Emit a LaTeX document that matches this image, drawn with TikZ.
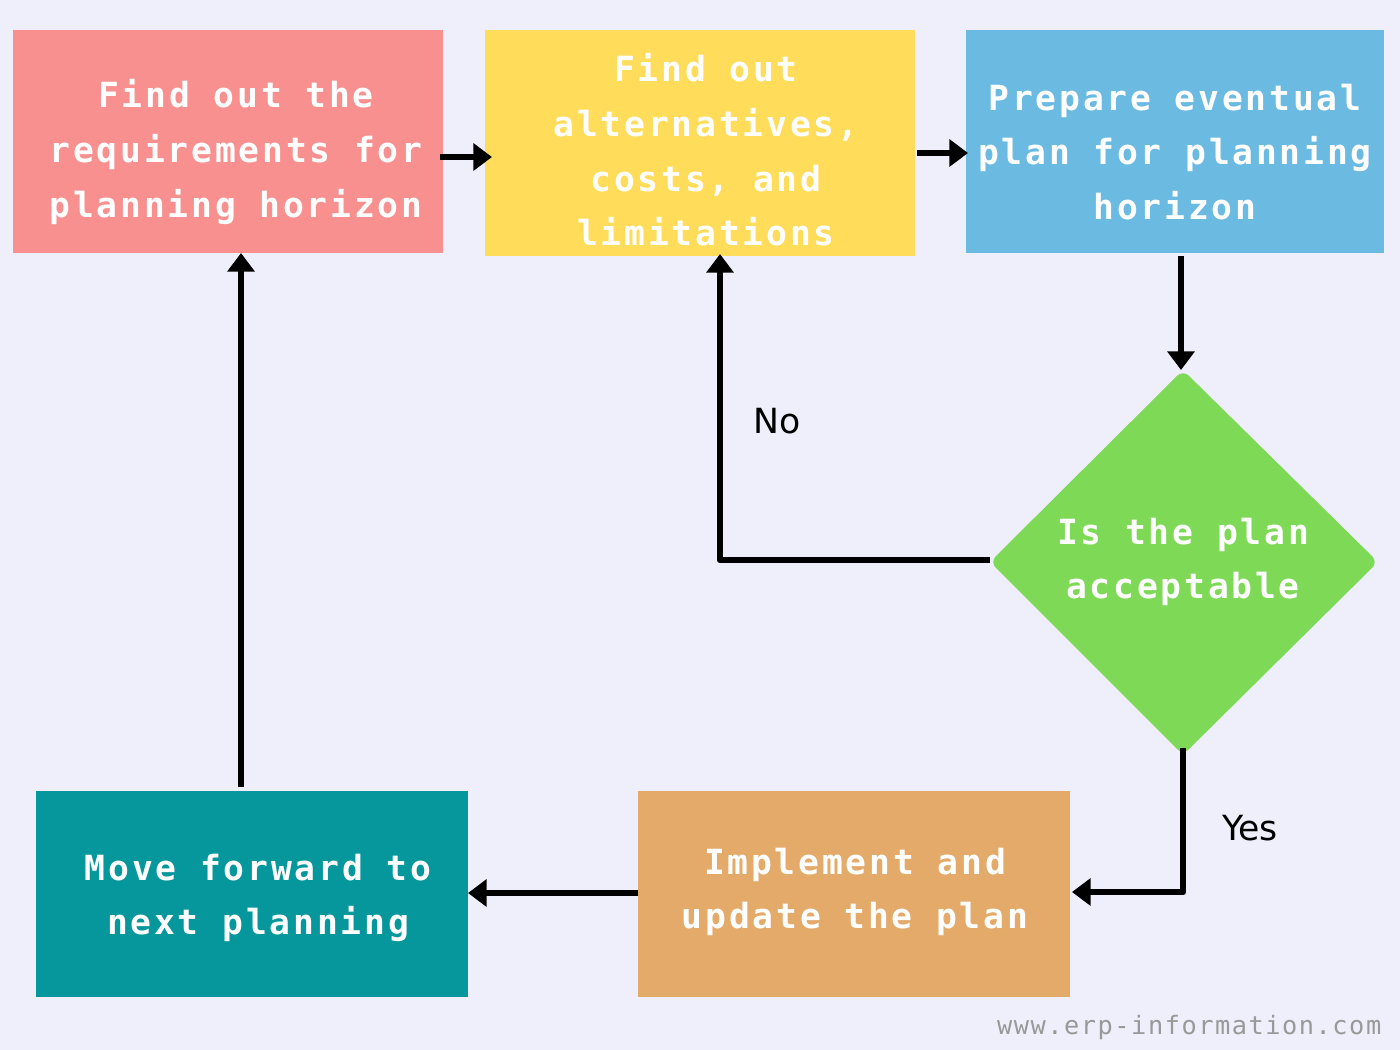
\documentclass[tikz,border=0pt]{standalone}
\usepackage{fontspec}
\usetikzlibrary{arrows.meta}
\newfontfamily\boxfont[LetterSpace=8]{DejaVu Sans Mono}
\newfontfamily\wmfont[LetterSpace=6]{DejaVu Sans Mono}
\newfontfamily\lblfont{DejaVu Sans}
\definecolor{bg}{HTML}{EFEFFB}
\definecolor{cred}{HTML}{F89090}
\definecolor{cyel}{HTML}{FFDD5A}
\definecolor{cblue}{HTML}{6ABAE2}
\definecolor{cgreen}{HTML}{7ED957}
\definecolor{corange}{HTML}{E3AA6A}
\definecolor{cteal}{HTML}{05979C}
\tikzset{
 boxtext/.style={text=white,align=center,font=\boxfont\bfseries\fontsize{26}{41}\selectfont},
 conn/.style={line width=5pt,-{Triangle[length=14pt,width=20pt]}},
 lbl/.style={font=\lblfont\fontsize{26}{30}\selectfont,text=black}
}
\begin{document}
\begin{tikzpicture}[x=0.75pt,y=-0.75pt]
\fill[bg] (0,0) rectangle (1400,1050);
\useasboundingbox (0,0) rectangle (1400,1050);
\fill[cred] (13,30) rectangle (443,253);
\fill[cyel] (485,30) rectangle (915,256);
\fill[cblue] (966,30) rectangle (1384,253);
\fill[corange] (638,791) rectangle (1070,997);
\fill[cteal] (36,791) rectangle (468,997);
\fill[cgreen,rounded corners=6pt] (1183,370) -- (1378,562) -- (1183,755) -- (990,562) -- cycle;
\node[boxtext] (a) at (236,152) {Find out the\\requirements for\\planning horizon};
\node[boxtext] (b) at (706,150) {Find out\\alternatives,\\costs, and\\limitations};
\node[boxtext] (c) at (1175,152) {Prepare eventual\\plan for planning\\horizon};
\node[boxtext] (d) at (1183,562) {Is the plan\\acceptable};
\node[boxtext] (e) at (855,892) {Implement and\\update the plan};
\node[boxtext] (f) at (258,898) {Move forward to\\next planning};
\coordinate (aR) at (440,157); \coordinate (bL) at (492,157);
\coordinate (bR) at (917,153); \coordinate (cL) at (968,153);
\coordinate (cB) at (1181,256); \coordinate (dT) at (1181,370);
\coordinate (dL) at (990,560); \coordinate (k1) at (720,560); \coordinate (bB) at (720,254);
\coordinate (dB) at (1183,748); \coordinate (k2) at (1183,892); \coordinate (eR) at (1072,892);
\coordinate (eL) at (638,893); \coordinate (fR) at (468,893);
\coordinate (fT) at (241,787); \coordinate (aB) at (241,253);
\draw[conn] (aR) -- (bL);
\draw[conn] (bR) -- (cL);
\draw[conn] (cB) -- (dT);
\draw[conn,line join=round] (dL) -- (k1) -- (bB);
\draw[conn,line join=round] (dB) -- (k2) -- (eR);
\draw[conn] (eL) -- (fR);
\draw[conn] (fT) -- (aB);
\node[lbl] (no) at (777,421) {No};
\node[lbl] (yes) at (1250,828) {Yes};
\node[font=\wmfont\fontsize{19}{22}\selectfont,text=gray!80,anchor=east] (wm) at (1386,1027) {www.erp-information.com};
\end{tikzpicture}
\end{document}
